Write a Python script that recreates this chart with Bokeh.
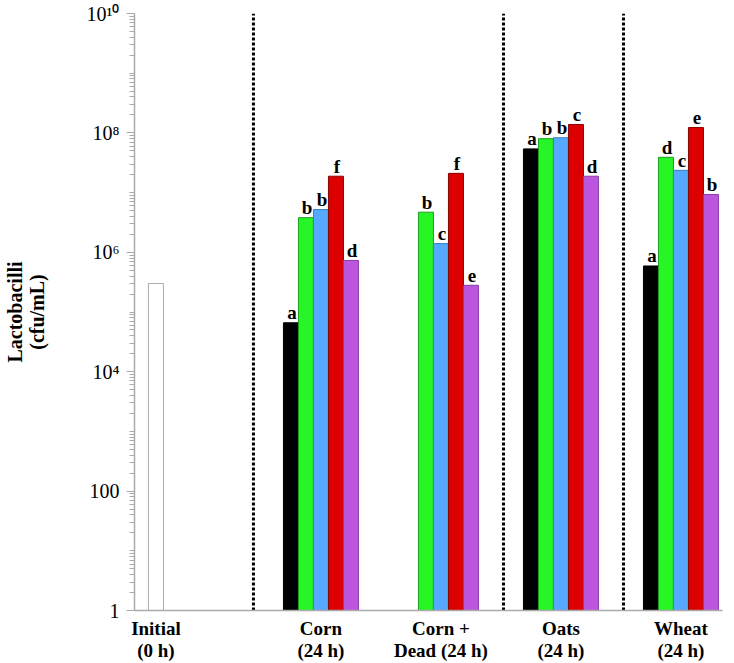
from bokeh.plotting import figure
from bokeh.models import Range1d, FixedTicker, ColumnDataSource
from bokeh.embed import file_html
from bokeh.resources import INLINE
from bokeh.core.properties import value

# ---- data ----
groups = ["Initial\n(0 h)", "Corn\n(24 h)", "Corn +\nDead (24 h)", "Oats\n(24 h)", "Wheat\n(24 h)"]
group_x = [1.43, 12.43, 20.43, 28.43, 36.43]
divider_x = [7.93, 24.6, 32.6]

initial_value = [3.0e5]

series_colors = ["#000000", "#26F526", "#55AAFF", "#DD0000", "#BB55DD"]
series_lines = ["#000000", "#1C9E1C", "#3A7FC0", "#8A0000", "#8A3CA6"]
# values for Corn, Corn+Dead, Oats, Wheat (None = no bar)
s_black  = [6.6e4, None, 5.4e7, 5.9e5]
s_green  = [3.8e6, 4.7e6, 8.0e7, 3.9e7]
s_blue   = [5.2e6, 1.4e6, 8.3e7, 2.36e7]
s_red    = [1.88e7, 2.1e7, 1.38e8, 1.23e8]
s_purple = [7.3e5, 2.8e5, 1.88e7, 9.3e6]
l_black  = ["a", "", "a", "a"]
l_green  = ["b", "b", "b", "d"]
l_blue   = ["b", "c", "b", "c"]
l_red    = ["f", "f", "c", "e"]
l_purple = ["d", "e", "d", "b"]

y_ticks = [1, 100, 1e4, 1e6, 1e8, 1e10]
y_tick_labels = ["1", "100", "10\u2074", "10\u2076", "10\u2078", "10\u00b9\u2070"]

FONT = "Liberation Serif"

p = figure(width=734, height=663, output_backend="svg", toolbar_location=None,
           y_axis_type="log", x_range=Range1d(0, 39.2), y_range=Range1d(1, 1e10),
           min_border_left=134, min_border_right=12, min_border_top=13, min_border_bottom=52)
p.background_fill_color = "white"
p.border_fill_color = "white"
p.outline_line_color = None
p.grid.visible = False

# initial bar
p.vbar(x=[group_x[0]], top=initial_value, bottom=1, width=1.0,
       fill_color="white", line_color="#AAAAAA", line_width=1)

series = [s_black, s_green, s_blue, s_red, s_purple]
letters = [l_black, l_green, l_blue, l_red, l_purple]
offsets = [-2, -1, 0, 1, 2]
for si in range(5):
    xs, tops, labs = [], [], []
    for gi in range(4):
        v = series[si][gi]
        if v is None:
            continue
        xs.append(group_x[gi + 1] + offsets[si])
        tops.append(v)
        labs.append(letters[si][gi])
    src = ColumnDataSource(dict(x=xs, top=tops, lab=labs))
    p.vbar(x="x", top="top", bottom=1, width=1.0, source=src,
           fill_color=series_colors[si], line_color=series_lines[si], line_width=1)
    p.text(x="x", y="top", text="lab", source=src, x_offset=1, y_offset=-10,
           text_font=value(FONT), text_font_size="19px", text_font_style="bold",
           text_align="center", text_baseline="alphabetic", text_color="black")

# dotted dividers
p.segment(x0=divider_x, x1=divider_x, y0=[1] * len(divider_x), y1=[1e10] * len(divider_x),
          line_color="black", line_width=3, line_dash="3 2")

xa = p.xaxis[0]
xa.ticker = FixedTicker(ticks=group_x)
xa.major_label_overrides = {gx: g for gx, g in zip(group_x, groups)}
xa.major_tick_line_color = None
xa.minor_tick_line_color = None
xa.axis_line_color = "#AAAAAA"
xa.axis_line_width = 1.5
xa.major_label_text_font = FONT
xa.major_label_text_font_style = "bold"
xa.major_label_text_font_size = "19px"
xa.major_label_text_color = "black"
xa.major_label_text_line_height = 1.05
xa.major_label_standoff = 1

ya = p.yaxis[0]
minor = []
for d in range(10):
    for k in range(1, 10):
        v = k * 10 ** d
        if v not in y_ticks:
            minor.append(float(v))
ya.ticker = FixedTicker(ticks=y_ticks, minor_ticks=minor)
ya.major_label_overrides = {t: l for t, l in zip(y_ticks, y_tick_labels)}
ya.axis_line_color = "#AAAAAA"
ya.axis_line_width = 1.5
ya.major_tick_line_color = "#AAAAAA"
ya.minor_tick_line_color = "#AAAAAA"
ya.major_tick_out = 8
ya.major_tick_in = 0
ya.minor_tick_out = 5
ya.minor_tick_in = 0
ya.major_label_text_font = FONT
ya.major_label_text_font_size = "20px"
ya.major_label_text_color = "black"
ya.major_label_standoff = 7
ya.axis_label = "Lactobacilli\n(cfu/mL)"
ya.axis_label_text_font = FONT
ya.axis_label_text_font_style = "bold"
ya.axis_label_text_font_size = "20px"
ya.axis_label_text_color = "black"
ya.axis_label_text_line_height = 1.0
ya.axis_label_standoff = 36

open("out.html", "w").write(file_html(p, INLINE))
